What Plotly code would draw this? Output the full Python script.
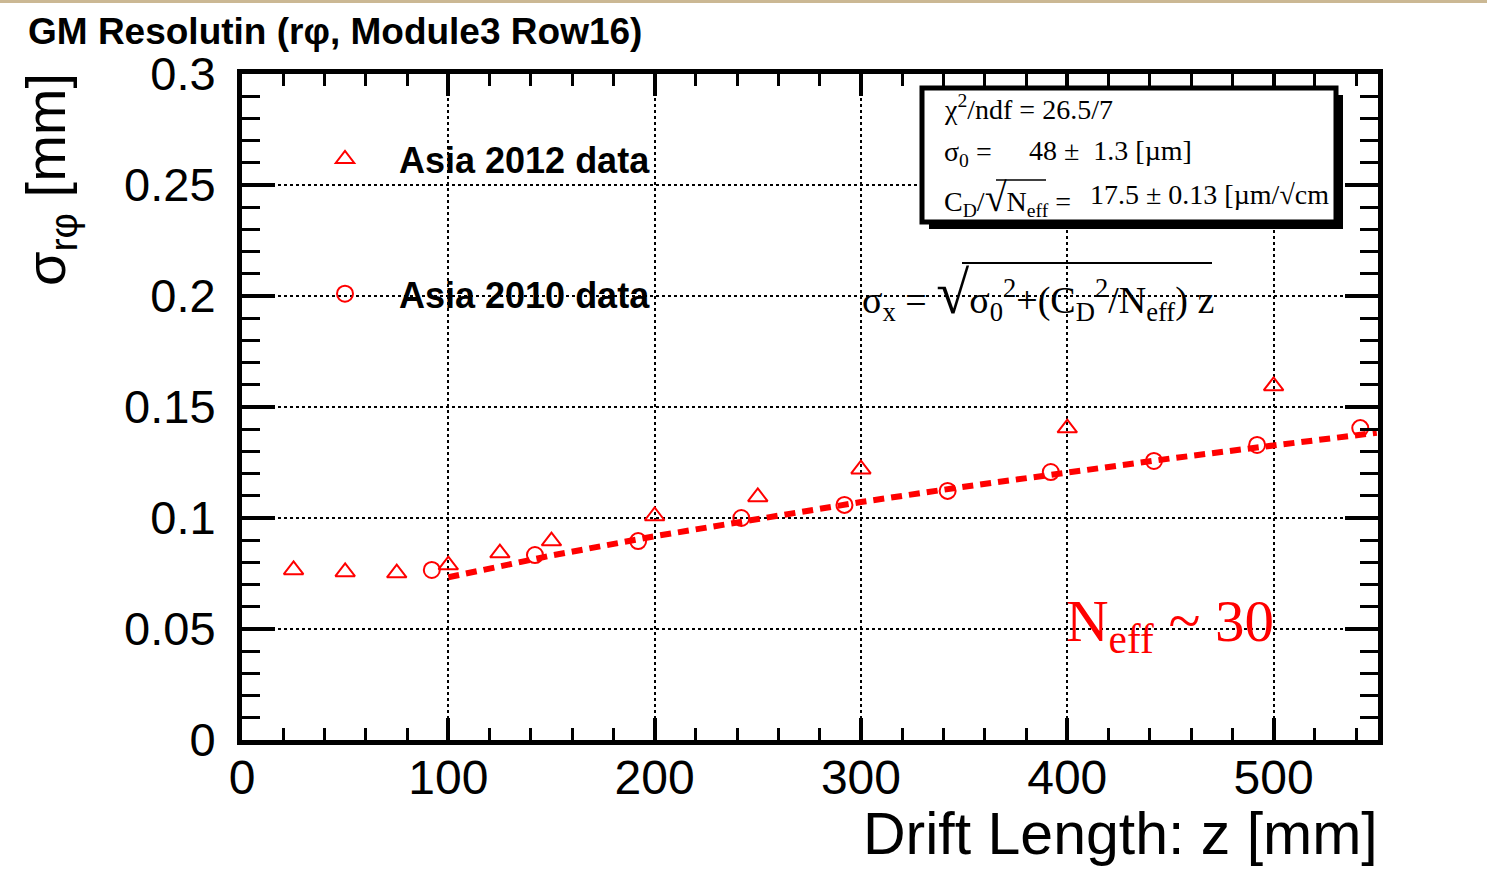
import plotly.graph_objects as go

# ---- data ----
z_2012 = [25, 50, 75, 100, 125, 150, 200, 250, 300, 400, 500]
s_2012 = [0.0766, 0.0757, 0.0752, 0.0788, 0.0842, 0.0896, 0.1009, 0.1095, 0.1220, 0.1405, 0.1595]

z_2010 = [92, 142, 192, 242, 292, 342, 392, 442, 492, 542]
s_2010 = [0.0766, 0.0833, 0.0896, 0.1000, 0.1059, 0.1122, 0.1207, 0.1257, 0.1329, 0.1405]

z_fit = [100, 150, 200, 250, 300, 350, 400, 450, 500, 550]
s_fit = [0.0733, 0.0831, 0.0918, 0.0998, 0.1072, 0.1141, 0.1206, 0.1268, 0.1327, 0.1384]

x_ticks = [0, 100, 200, 300, 400, 500]
y_ticks = [0, 0.05, 0.1, 0.15, 0.2, 0.25, 0.3]
y_tick_labels = ["0", "0.05", "0.1", "0.15", "0.2", "0.25", "0.3"]

W, H = 1487, 892
L, R, T, B = 242, 1378, 74, 740

def px(x):
    return (x - L) / (R - L)

def py(y):
    return (B - y) / (B - T)

RED = "#ff0000"
SANS = "Liberation Sans, Arial, Helvetica, sans-serif"
SERIF = "Liberation Serif, Times New Roman, serif"

fig = go.Figure()
fig.add_trace(go.Scatter(
    x=z_fit, y=s_fit, mode="lines", showlegend=False,
    line=dict(color=RED, width=6, dash="11px,7px"),
))
fig.add_trace(go.Scatter(
    x=z_2012, y=s_2012, mode="markers", name="Asia 2012 data",
    legendgroup="a",
    marker=dict(symbol="triangle-up-open", size=17, color=RED, line=dict(color=RED, width=2)),
))
fig.add_trace(go.Scatter(
    x=z_2010, y=s_2010, mode="markers", name="Asia 2010 data",
    legendgroup="b",
    marker=dict(symbol="circle-open", size=16, color=RED, line=dict(color=RED, width=2)),
))

fig.update_layout(
    width=W, height=H,
    margin=dict(l=L, r=W - R, t=T, b=H - B, pad=0),
    paper_bgcolor="white", plot_bgcolor="white",
    title=dict(text="<b>GM Resolutin (rφ, Module3 Row16)</b>",
               font=dict(family=SANS, size=37, color="black"),
               x=28 / W, xanchor="left", xref="container",
               y=1 - 31 / H, yanchor="middle"),
    legend=dict(x=px(291), y=py(129), xanchor="left", yanchor="top",
                bgcolor="rgba(0,0,0,0)", tracegroupgap=85,
                font=dict(family=SANS, size=36, color="black", weight="bold"),
                itemwidth=98),
    xaxis=dict(range=[0, 550.6], tickvals=x_ticks, ticktext=[str(v) for v in x_ticks],
               showline=True, linecolor="black", linewidth=5, mirror="allticks",
               ticks="inside", ticklen=22, tickwidth=4, tickcolor="black",
               minor=dict(dtick=20, ticks="inside", ticklen=12, tickwidth=3, tickcolor="black", showgrid=False),
               showgrid=True, gridcolor="black", gridwidth=2, griddash="dot",
               zeroline=False, ticklabelstandoff=-9,
               tickfont=dict(family=SANS, size=48, color="black")),
    yaxis=dict(range=[0, 0.3], tickvals=y_ticks, ticktext=y_tick_labels,
               showline=True, linecolor="black", linewidth=5, mirror="allticks",
               ticks="inside", ticklen=33, tickwidth=4, tickcolor="black",
               minor=dict(dtick=0.01, ticks="inside", ticklen=18, tickwidth=3, tickcolor="black", showgrid=False),
               showgrid=True, gridcolor="black", gridwidth=2, griddash="dot",
               zeroline=False, ticklabelstandoff=12,
               tickfont=dict(family=SANS, size=47, color="black")),
)

ann = []
# axis titles
ann.append(dict(text="σ<sub>rφ</sub> [mm]", xref="paper", yref="paper",
                x=px(50), y=py(180), xanchor="center", yanchor="middle",
                textangle=-90, showarrow=False,
                font=dict(family=SANS, size=56, color="black")))
ann.append(dict(text="Drift Length: z [mm]", xref="paper", yref="paper",
                x=px(1380), y=py(834), xanchor="right", yanchor="middle",
                showarrow=False, font=dict(family=SANS, size=59, color="black")))
# formula
ann.append(dict(text="σ<sub>x</sub> = <span style='font-size:60px'>√</span>σ<sub>0</sub><sup>2</sup>+(C<sub>D</sub><sup>2</sup>/N<sub>eff</sub>) z",
                xref="paper", yref="paper", x=px(860), y=py(293),
                xanchor="left", yanchor="middle", showarrow=False,
                font=dict(family=SERIF, size=38, color="black")))
# N_eff ~ 30
ann.append(dict(text="N<sub>eff</sub> ~ 30", xref="paper", yref="paper",
                x=px(1064), y=py(625), xanchor="left", yanchor="middle",
                showarrow=False, font=dict(family=SERIF, size=59, color=RED)))
# stats box text
sf = dict(family=SERIF, size=28, color="black")
ann.append(dict(text="χ<sup>2</sup>/ndf = 26.5/7", xref="paper", yref="paper",
                x=px(942), y=py(108), xanchor="left", yanchor="middle", showarrow=False, font=sf))
ann.append(dict(text="σ<sub>0</sub> =", xref="paper", yref="paper",
                x=px(942), y=py(153), xanchor="left", yanchor="middle", showarrow=False, font=sf))
ann.append(dict(text="48 ±  1.3 [µm]", xref="paper", yref="paper",
                x=px(1027), y=py(150), xanchor="left", yanchor="middle", showarrow=False, font=sf))
ann.append(dict(text="C<sub>D</sub>/<span style='font-size:40px'>√</span>N<sub>eff</sub> =", xref="paper", yref="paper",
                x=px(942), y=py(198), xanchor="left", yanchor="middle", showarrow=False, font=sf))
ann.append(dict(text="17.5 ± 0.13 [µm/√cm", xref="paper", yref="paper",
                x=px(1088), y=py(195), xanchor="left", yanchor="middle", showarrow=False, font=sf))
fig.update_layout(annotations=ann)

shapes = []
# top tan strip
shapes.append(dict(type="rect", xref="paper", yref="paper", x0=px(0), x1=px(W), y0=py(0), y1=py(3),
                   fillcolor="#cbb894", line=dict(width=0), layer="above"))
# stats box shadow + box
shapes.append(dict(type="rect", xref="paper", yref="paper", x0=px(929), x1=px(1343), y0=py(229), y1=py(95),
                   fillcolor="black", line=dict(width=0), layer="above"))
shapes.append(dict(type="rect", xref="paper", yref="paper", x0=px(922), x1=px(1336), y0=py(222), y1=py(88),
                   fillcolor="white", line=dict(color="black", width=5), layer="above"))
# radical bars
shapes.append(dict(type="line", xref="paper", yref="paper", x0=px(962), x1=px(1212), y0=py(263), y1=py(263),
                   line=dict(color="black", width=2), layer="above"))
shapes.append(dict(type="line", xref="paper", yref="paper", x0=px(996), x1=px(1046), y0=py(180), y1=py(180),
                   line=dict(color="black", width=1.5), layer="above"))
fig.update_layout(shapes=shapes)

fig.write_html("out.html")
